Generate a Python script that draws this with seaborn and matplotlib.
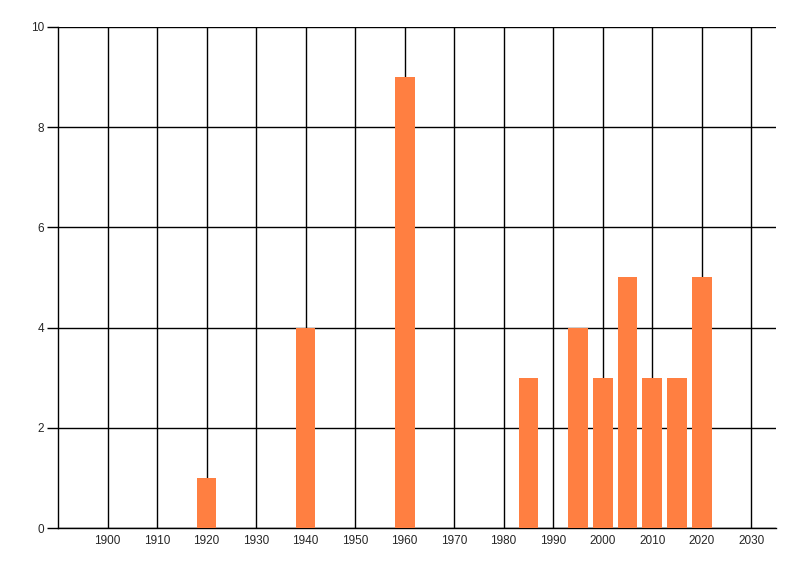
import numpy as np
import pandas as pd
import matplotlib
matplotlib.use("Agg")
import matplotlib.pyplot as plt
import seaborn as sns

# values
years = [1920, 1940, 1960, 1985, 1995, 2000, 2005, 2010, 2015, 2020]
counts = [1, 4, 9, 3, 4, 3, 5, 3, 3, 5]
x_ticks = list(range(1900, 2031, 10))
y_ticks = [0, 2, 4, 6, 8, 10]

sns.set_style("white")
plt.rcParams['font.family'] = ['Liberation Sans', 'DejaVu Sans']

df = pd.DataFrame({"year": years, "count": counts})

fig = plt.figure(figsize=(8, 5.76), dpi=100)
ax = fig.add_axes([0.0725, 0.0833, 0.8975, 0.870])

sns.barplot(data=df, x="year", y="count", native_scale=True, width=0.8,
            color="#FF7F41", saturation=1, linewidth=0, edgecolor="none",
            ax=ax, zorder=3)

ax.set_xlim(1890, 2035)
ax.set_ylim(0, 10)
ax.set_xticks(x_ticks)
ax.set_yticks(y_ticks)
ax.set_xticklabels([str(t) for t in x_ticks], fontsize=8.5)
ax.set_yticklabels([str(t) for t in y_ticks], fontsize=8.5)
ax.grid(True, color="black", linewidth=1, zorder=0)
ax.set_axisbelow(True)
ax.tick_params(axis="y", length=8, width=1, color="black", pad=2, left=True)
ax.tick_params(axis="x", length=0, pad=5)
ax.set_xlabel("")
ax.set_ylabel("")

for side in ["top", "right"]:
    ax.spines[side].set_visible(False)
for side in ["left", "bottom"]:
    ax.spines[side].set_color("black")
    ax.spines[side].set_linewidth(1)

fig.savefig("out.png", dpi=100)
